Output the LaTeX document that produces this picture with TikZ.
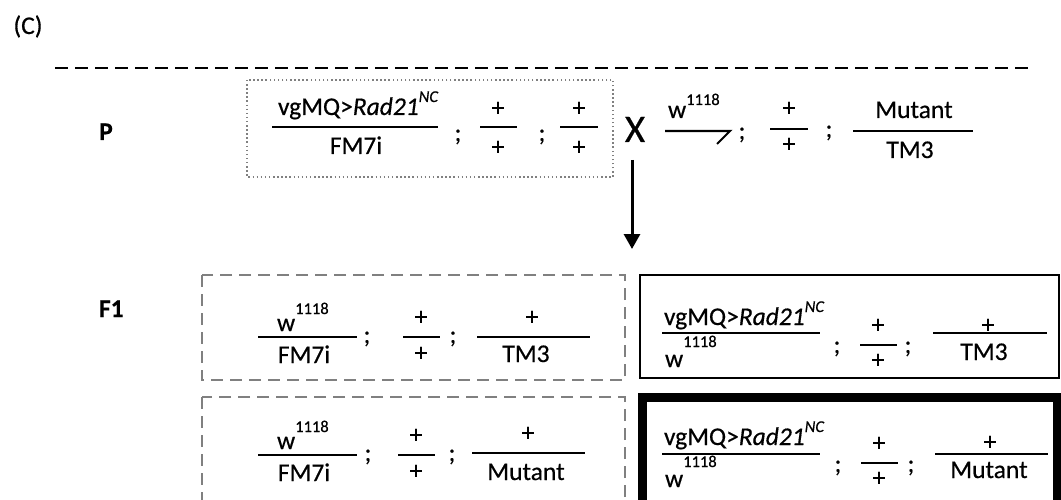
\documentclass[tikz,border=0pt]{standalone}
\usepackage{fontspec}
\setmainfont{Carlito}[FakeBold=0.5]
\usetikzlibrary{arrows.meta}
\definecolor{boxgray}{HTML}{808080}
\newcommand\myup[2]{\raisebox{#1pt}{\fontsize{16.5}{16.5}\selectfont #2}}
\begin{document}
\begin{tikzpicture}[x=1pt,y=-1pt,
  every node/.style={inner sep=0pt,outer sep=0pt,font=\fontsize{25.5}{30}\selectfont},
  txt/.style={anchor=base},
  txtw/.style={anchor=base west},
  bold/.style={font=\fontsize{25.5}{30}\selectfont\bfseries},
  fr/.style={line width=2.1pt},
  topdash/.style={line width=1.6pt,dash pattern=on 13pt off 7pt},
  dotbox/.style={draw=boxgray,line width=1.5pt,dash pattern=on 1.5pt off 2.6pt},
  dashbox/.style={draw=boxgray,line width=2pt,dash pattern=on 12pt off 7pt},
  thinbox/.style={draw=black,line width=2pt},
  thickbox/.style={draw=black,line width=9pt},
  arrowline/.style={line width=3pt,-{Triangle[length=15pt,width=16pt]}}]
\useasboundingbox (0,0) rectangle (1061,500);
\clip (0,0) rectangle (1061,500);
% header
\node[txt] (C) at (28,34) {(C)};
\coordinate (dl) at (55,68); \coordinate (dr) at (1028,68);
\draw[topdash] (dl) -- (dr);
% P row
\node[txt,bold] (P) at (106,140) {P};
\draw[dotbox] (247,80) rectangle (613,177);
\node[txtw] (p1n) at (278,115) {vgMQ>\textit{Rad21}\myup{13}{\textit{NC}}};
\draw[fr] (272,127) -- (438,127);
\node[txt] (p1d) at (356,154) {FM7i};
\node[txt] (ps1) at (458,141) {;};
\node[txt] (p2n) at (498,116) {+};
\draw[fr] (480,127) -- (517,127);
\node[txt] (p2d) at (498,155) {+};
\node[txt] (ps2) at (542,141) {;};
\node[txt] (p3n) at (579,116) {+};
\draw[fr] (560,127) -- (598,127);
\node[txt] (p3d) at (579,155) {+};
\node[txt,font=\fontsize{39}{45}\selectfont] (X) at (635,142) {X};
\node[txtw] (p4n) at (668,118) {w\myup{13}{1118}};
\draw[fr] (665,131) -- (730,131) -- (717,144);
\node[txt] (ps3) at (742,139) {;};
\node[txt] (p5n) at (789,116) {+};
\draw[fr] (770,129) -- (808,129);
\node[txt] (p5d) at (789,152) {+};
\node[txt] (ps4) at (829,137) {;};
\node[txt] (p6n) at (914,118) {Mutant};
\draw[fr] (853,131) -- (973,131);
\node[txt] (p6d) at (910,158) {TM3};
\coordinate (aS) at (632,160);
\coordinate (aE) at (632,249);
\draw[arrowline] (aS) -- (aE);
% F1
\node[txtw,bold] (F1) at (99,317) {F1};
% left box 1
\draw[dashbox] (202,275) rectangle (625,380);
\node[txtw] (a1n) at (277,331) {w\myup{17}{1118}};
\draw[fr] (258,337) -- (357,337);
\node[txt] (a1d) at (304,363) {FM7i};
\node[txt] (as1) at (367,343) {;};
\node[txt] (a2n) at (421,325) {+};
\draw[fr] (403,337) -- (440,337);
\node[txt] (a2d) at (421,361) {+};
\node[txt] (as2) at (453,343) {;};
\node[txt] (a3n) at (532,325) {+};
\draw[fr] (477,337) -- (590,337);
\node[txt] (a3d) at (526,362) {TM3};
% left box 2
\draw[dashbox] (202,397) rectangle (625,530);
\node[txtw] (b1n) at (277,449) {w\myup{17}{1118}};
\draw[fr] (258,455) -- (357,455);
\node[txt] (b1d) at (304,481) {FM7i};
\node[txt] (bs1) at (368,461) {;};
\node[txt] (b2n) at (416,443) {+};
\draw[fr] (398,455) -- (435,455);
\node[txt] (b2d) at (416,479) {+};
\node[txt] (bs2) at (452,461) {;};
\node[txt] (b3n) at (528,441) {+};
\draw[fr] (472,453) -- (585,453);
\node[txt] (b3d) at (526,480) {Mutant};
% right box 1
\draw[thinbox] (640,275) rectangle (1059,378);
\node[txtw] (c1n) at (664,325) {vgMQ>\textit{Rad21}\myup{13}{\textit{NC}}};
\draw[fr] (662,333) -- (820,333);
\node[txtw] (c1d) at (665,367) {w\myup{20}{1118}};
\node[txt] (cs1) at (837,353) {;};
\node[txt] (c2n) at (878,333) {+};
\draw[fr] (860,345) -- (897,345);
\node[txt] (c2d) at (878,368) {+};
\node[txt] (cs2) at (908,353) {;};
\node[txt] (c3n) at (988,333) {+};
\draw[fr] (933,333) -- (1047,333);
\node[txt] (c3d) at (984,360) {TM3};
% right box 2
\draw[thickbox] (642,397.5) rectangle (1057,530);
\node[txtw] (d1n) at (664,445) {vgMQ>\textit{Rad21}\myup{13}{\textit{NC}}};
\draw[fr] (662,454) -- (820,454);
\node[txtw] (d1d) at (665,487) {w\myup{20}{1118}};
\node[txt] (ds1) at (838,472) {;};
\node[txt] (d2n) at (879,451) {+};
\draw[fr] (861,463) -- (898,463);
\node[txt] (d2d) at (879,486) {+};
\node[txt] (ds2) at (911,472) {;};
\node[txt] (d3n) at (990,450) {+};
\draw[fr] (935,454) -- (1048,454);
\node[txt] (d3d) at (989,478) {Mutant};
\end{tikzpicture}
\end{document}
